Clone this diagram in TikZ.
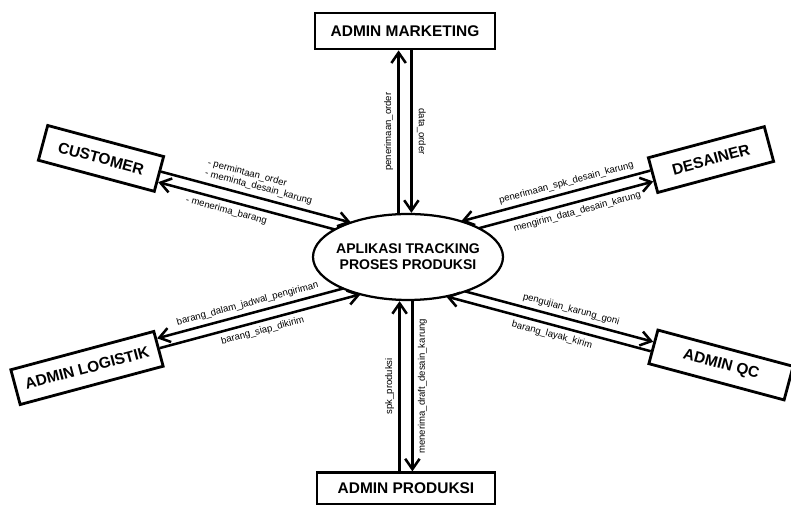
\documentclass[tikz,border=0pt]{standalone}
\usepackage{fontspec}
\setmainfont{Liberation Sans}
\usetikzlibrary{positioning,arrows.meta,shapes.geometric,calc,intersections}

\begin{document}
\begin{tikzpicture}[
    box/.style={rectangle, draw, line width=2pt, inner sep=0pt, font=\bfseries\fontsize{11}{13}\selectfont},
    hub/.style={ellipse, draw, line width=1.6pt, minimum width=4.75cm, minimum height=2.15cm, inner sep=-4pt, align=center, font=\bfseries\fontsize{10}{11.4}\selectfont},
    flow/.style={->, >={Straight Barb[length=2.6mm,width=3.6mm]}, line width=1.8pt},
    lbl/.style={font=\fontsize{6.8}{7.6}\selectfont, inner sep=3pt}
]
    \useasboundingbox (0,0) rectangle (19.775,12.65);

    \node[hub] (app) at (10.2,6.225) {APLIKASI TRACKING\\PROSES PRODUKSI};
    \node[box, minimum width=4.5cm, minimum height=0.9cm] (mkt) at (10.125,11.875) {ADMIN MARKETING};
    \node[box, minimum width=4.45cm, minimum height=0.78cm] (prod) at (10.15,0.44) {ADMIN PRODUKSI};
    \node[box, minimum width=3cm, minimum height=0.9cm, rotate=-15] (cust) at (2.525,8.69) {CUSTOMER};
    \node[box, minimum width=3cm, minimum height=0.9cm, rotate=15] (des) at (17.775,8.66) {DESAINER};
    \node[box, minimum width=3.7cm, minimum height=0.9cm, rotate=15] (log) at (2.175,3.45) {ADMIN LOGISTIK};
    \node[box, minimum width=3.5cm, minimum height=0.87cm, rotate=-15] (qc) at (18.025,3.525) {ADMIN QC};

    \coordinate (mL) at ([xshift=-1.6mm]mkt.south);
    \coordinate (mR) at ([xshift=1.6mm]mkt.south);
    \coordinate (pL) at ([xshift=-1.6mm]prod.north);
    \coordinate (pR) at ([xshift=1.6mm]prod.north);

    \draw[flow] (mL |- app.north) -- (mL) node[midway, sloped, above, lbl] {penerimaan\_order};
    \draw[flow] (mR) -- (mR |- app.north) node[midway, sloped, above, lbl] {data\_order};
    \draw[flow] (pL) -- (pL |- app.south) node[midway, sloped, above, lbl] {spk\_produksi};
    \draw[flow, <-] (pR) -- (pR |- app.south) node[midway, sloped, below, lbl] {menerima\_draft\_desain\_karung};

    \path[name path=rim] (app.center) ellipse [x radius=2.375cm, y radius=1.075cm];
    \coordinate (c1) at ($(cust.north east)!0.43!(cust.south east)$);
    \coordinate (c2) at ($(cust.north east)!0.71!(cust.south east)$);
    \coordinate (d1) at ($(des.north west)!0.37!(des.south west)$);
    \coordinate (d2) at ($(des.north west)!0.66!(des.south west)$);
    \coordinate (l1) at ($(log.north east)!0.23!(log.south east)$);
    \coordinate (l2) at ($(log.north east)!0.49!(log.south east)$);
    \coordinate (q1) at ($(qc.north west)!0.37!(qc.south west)$);
    \coordinate (q2) at ($(qc.north west)!0.63!(qc.south west)$);
    \foreach \p/\a in {c1/-15,c2/-15,d1/195,d2/195,l1/15,l2/15,q1/165,q2/165}{
        \path[name path=ray] (\p) -- ++(\a:9);
        \path[name intersections={of=ray and rim, sort by=ray, by=e\p}];
    }

    \draw[flow] (c1) -- (ec1) node[midway, sloped, above, lbl, align=left] {- permintaan\_order\\- meminta\_desain\_karung};
    \draw[flow] (ec2) -- (c2) node[pos=0.6, sloped, below, lbl] {- menerima\_barang};
    \draw[flow] (d1) -- (ed1) node[pos=0.43, sloped, above, lbl] {penerimaan\_spk\_desain\_karung};
    \draw[flow] (ed2) -- (d2) node[pos=0.55, sloped, below, lbl] {mengirim\_data\_desain\_karung};
    \draw[flow] (el1) -- (l1) node[midway, sloped, above, lbl] {barang\_dalam\_jadwal\_pengiriman};
    \draw[flow] (l2) -- (el2) node[midway, sloped, below, lbl] {barang\_siap\_dikirim};
    \draw[flow] (eq1) -- (q1) node[pos=0.55, sloped, above, lbl] {pengujian\_karung\_goni};
    \draw[flow] (q2) -- (eq2) node[pos=0.47, sloped, below, lbl] {barang\_layak\_kirim};
\end{tikzpicture}
\end{document}
